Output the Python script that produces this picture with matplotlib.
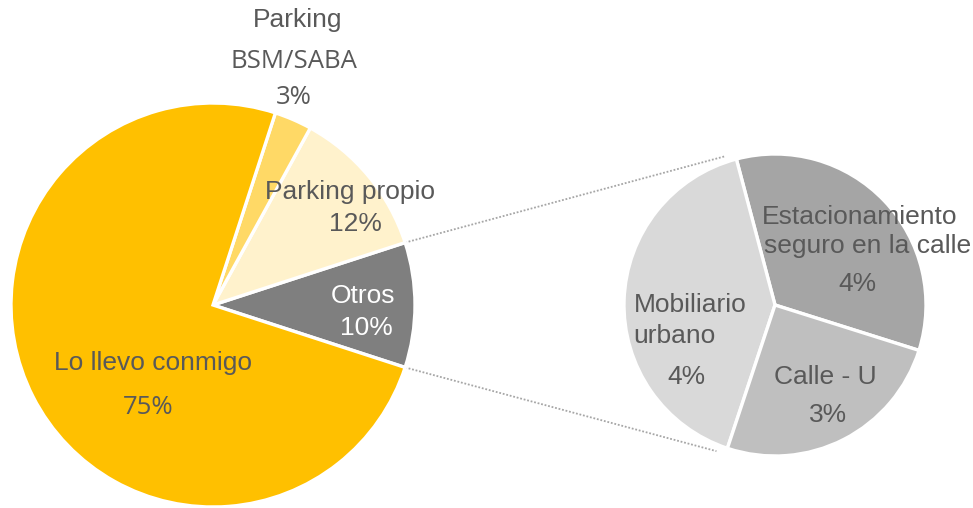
import numpy as np
import matplotlib
matplotlib.use('Agg')
import matplotlib.pyplot as plt

# datos del gráfico principal (porcentaje)
main_labels = ['Otros', 'Parking propio', 'Parking BSM/SABA', 'Lo llevo conmigo']
main_values = [10, 12, 3, 75]
main_colors = ['#7F7F7F', '#FFF2CC', '#FFD966', '#FFC000']

# desglose de "Otros"
sub_labels = ['Estacionamiento seguro en la calle', 'Mobiliario urbano', 'Calle - U']
sub_values = [3.5, 4.2, 2.6]
sub_pct_text = ['4%', '4%', '3%']
sub_colors = ['#A5A5A5', '#D9D9D9', '#BFBFBF']

W, H = 973, 508
TXT = '#595959'
plt.rcParams['font.family'] = ['Liberation Sans', 'DejaVu Sans']

fig = plt.figure(figsize=(W / 100, H / 100), dpi=100)
ax = fig.add_axes([0, 0, 1, 1])

main_c, main_r = (213, 203), 202
sub_c, sub_r = (775, 203), 151

wedges1, _ = ax.pie(main_values, colors=main_colors, startangle=-18, counterclock=True,
                    center=main_c, radius=main_r,
                    wedgeprops=dict(edgecolor='white', linewidth=2.4))
wedges2, _ = ax.pie(sub_values, colors=sub_colors, startangle=-17.5, counterclock=True,
                    center=sub_c, radius=sub_r,
                    wedgeprops=dict(edgecolor='white', linewidth=2.4))

ax.set_xlim(0, W)
ax.set_ylim(0, H)
ax.set_aspect('equal')
ax.axis('off')

# líneas de conexión entre "Otros" y el segundo gráfico
otros = wedges1[0]
mob = wedges2[1]
for a1, a2 in [(otros.theta2, mob.theta1), (otros.theta1, mob.theta2)]:
    p1 = (main_c[0] + main_r * np.cos(np.radians(a1)), main_c[1] + main_r * np.sin(np.radians(a1)))
    p2 = (sub_c[0] + sub_r * 1.02 * np.cos(np.radians(a2)) - 10, sub_c[1] + sub_r * 1.02 * np.sin(np.radians(a2)))
    ax.plot([p1[0], p2[0]], [p1[1], p2[1]], color='#A6A6A6', lw=1.3,
            linestyle=(0, (1, 1)), zorder=0)

fs = 19
def txt(x, y, s, color=TXT, size=fs, family=None):
    kw = {}
    if family:
        kw['family'] = family
    ax.text(x, H - y, s, ha='center', va='center', color=color, fontsize=size, **kw)

# etiquetas (posiciones en píxeles desde arriba)
txt(298, 20, 'Parking')
txt(294, 62, 'BSM/SABA', size=18.5, family=['Open Sans', 'DejaVu Sans'])
txt(294, 97, '3%', size=18.5, family=['Open Sans', 'DejaVu Sans'])
txt(350, 192, 'Parking propio')
txt(355, 224, '12%')
txt(363, 296, 'Otros', color='white')
txt(366, 328, '10%', color='white')
txt(153, 363, 'Lo llevo conmigo')
txt(148, 407, '75%', size=18.5, family=['Open Sans', 'DejaVu Sans'])

txt(860, 217, 'Estacionamiento')
txt(868, 246, 'seguro en la calle')
txt(857, 284, sub_pct_text[0])
txt(690, 305, 'Mobiliario')
txt(674, 336, 'urbano')
txt(686, 377, sub_pct_text[1])
txt(825, 377, 'Calle - U')
txt(828, 415, sub_pct_text[2])

fig.savefig('out.png', dpi=100)
